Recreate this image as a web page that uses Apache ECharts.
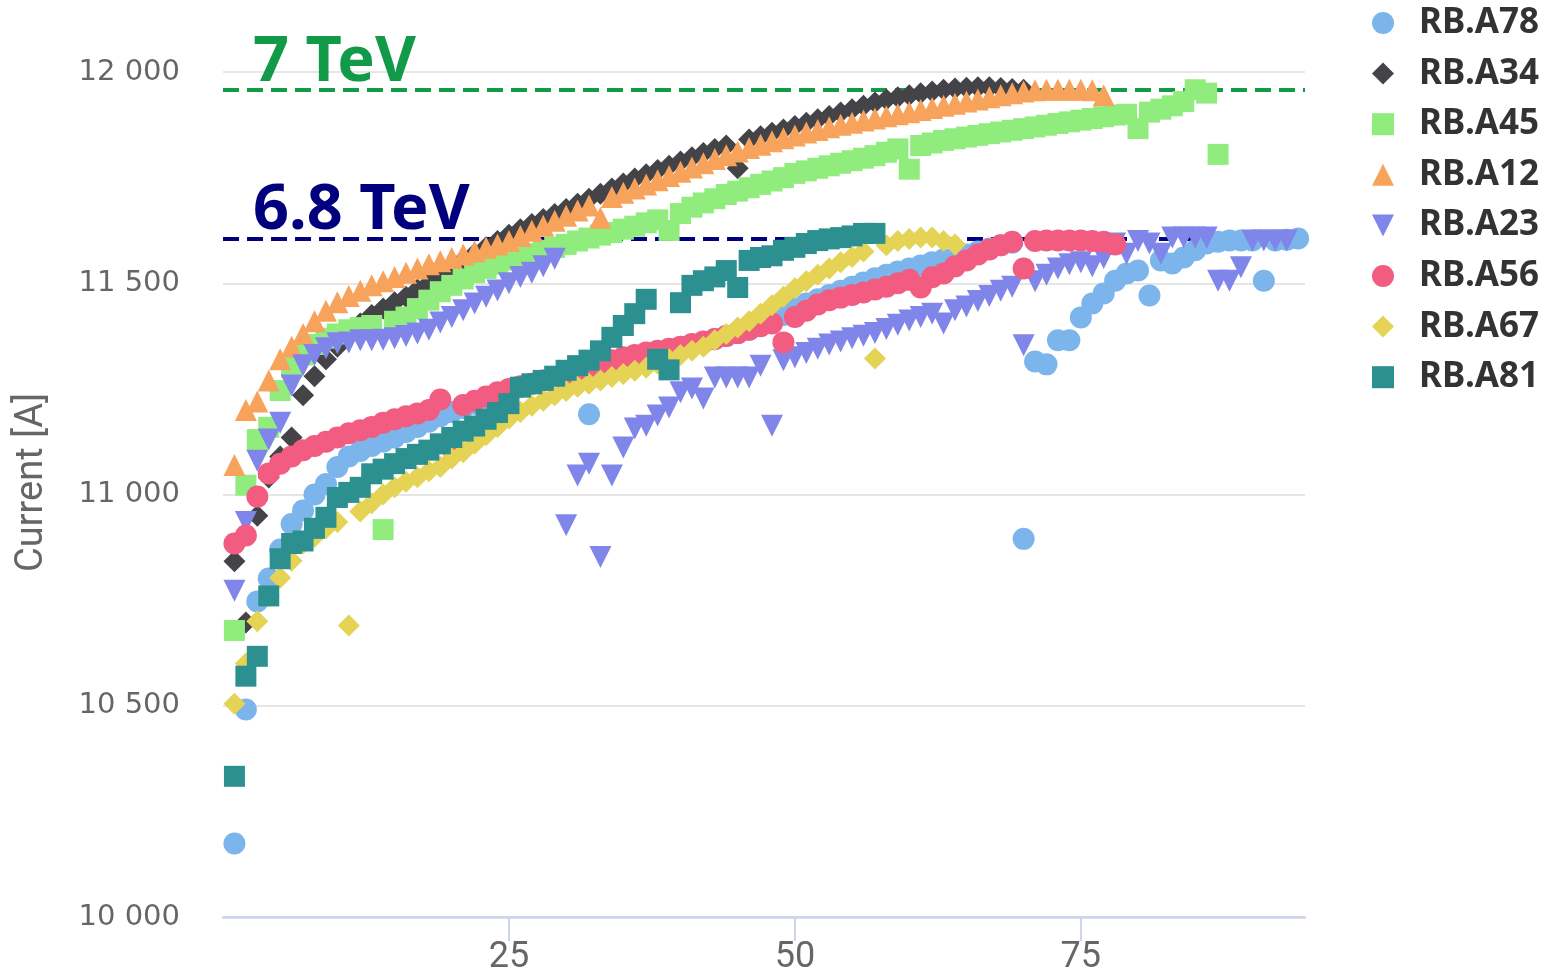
<!DOCTYPE html>
<html>
<head>
<meta charset="utf-8">
<script src="https://cdn.jsdelivr.net/npm/echarts@6/dist/echarts.min.js"></script>
<style>
html,body{margin:0;padding:0;background:#fff;}
#chart{width:1550px;height:973px;}
</style>
</head>
<body>
<div id="chart"></div>
<script>
// ---- data (values indexed from x = 1) ----
var seriesNames = ['RB.A78','RB.A34','RB.A45','RB.A12','RB.A23','RB.A56','RB.A67','RB.A81'];
var xTicks = [25, 50, 75];
var yTicks = [10000, 10500, 11000, 11500, 12000];
var plotLineValues = [11957, 11605];
var plotLineLabels = ['7 TeV', '6.8 TeV'];

var A78 = [10174,10491,10747,10801,10870,10930,10962,11000,11025,11065,
11090,11103,11115,11125,11135,11148,11160,11172,11185,11195,
11205,11215,11225,11235,11245,11255,11262,11270,11278,11285,
11292,11190,11300,11305,11312,11320,11325,11332,11340,11345,
11352,11360,11368,11375,11382,11390,11400,11412,11425,11440,
11452,11462,11472,11482,11492,11502,11512,11520,11528,11535,
11542,11550,11556,11562,11568,11575,11582,11590,11596,10895,
11315,11308,11365,11365,11419,11452,11476,11506,11523,11530,
11471,11554,11547,11561,11578,11594,11598,11601,11601,11601,
11506,11601,11603,11606];

var A34 = [10842,10697,10950,11040,11090,11135,11235,11280,11320,11350,
11380,11405,11425,11440,11455,11468,11485,11500,11520,11540,
11555,11570,11585,11600,11615,11628,11640,11652,11664,11676,
11688,11700,11712,11724,11736,11748,11758,11768,11778,11788,
11798,11808,11818,11826,11772,11840,11848,11856,11864,11872,
11880,11888,11896,11904,11912,11920,11928,11935,11940,11945,
11950,11954,11958,11961,11963,11964,11964,11962,11960,11958];

var A45 = [10678,11022,11130,11159,11246,11300,11330,11355,11370,11380,
11390,11395,11400,10917,11410,11420,11440,11460,11480,11495,
11510,11525,11535,11545,11555,11562,11570,11578,11585,11592,
11600,11607,11614,11620,11628,11635,11643,11650,11625,11665,
11680,11690,11700,11710,11718,11726,11734,11742,11750,11760,
11766,11772,11778,11784,11790,11796,11802,11810,11818,11770,
11826,11832,11838,11842,11846,11850,11854,11858,11862,11866,
11870,11874,11878,11882,11886,11890,11894,11898,11900,11866,
11905,11912,11920,11930,11958,11950,11805];

var A12 = [11070,11200,11220,11270,11320,11350,11380,11410,11435,11455,
11470,11482,11495,11505,11515,11525,11535,11545,11552,11560,
11568,11576,11584,11592,11600,11612,11624,11636,11648,11660,
11672,11684,11655,11704,11714,11724,11734,11744,11754,11764,
11774,11784,11794,11803,11812,11820,11828,11836,11843,11850,
11857,11863,11869,11875,11880,11885,11890,11895,11900,11905,
11910,11915,11920,11925,11930,11935,11940,11945,11950,11954,
11957,11958,11958,11958,11958,11957,11945];

var A23 = [10772,10935,11080,11130,11170,11258,11306,11330,11346,11358,
11360,11365,11365,11366,11370,11375,11381,11390,11407,11420,
11436,11452,11468,11483,11500,11515,11525,11540,11558,10927,
11045,11073,10852,11045,11111,11156,11163,11187,11206,11242,
11251,11227,11277,11277,11277,11277,11305,11163,11318,11325,
11335,11345,11355,11362,11370,11376,11382,11392,11402,11412,
11420,11428,11405,11436,11445,11458,11470,11482,11492,11353,
11505,11520,11535,11545,11550,11540,11560,11594,11570,11600,
11594,11570,11608,11608,11608,11608,11506,11506,11538,11601,
11601,11601,11601];

var A56 = [10884,10903,10995,11050,11073,11090,11105,11115,11125,11135,
11145,11152,11160,11170,11178,11185,11192,11200,11225,11110,
11212,11222,11232,11242,11250,11256,11262,11270,11278,11285,
11292,11300,11310,11318,11325,11330,11336,11340,11345,11350,
11356,11362,11368,11375,11382,11390,11398,11405,11360,11420,
11435,11450,11460,11466,11472,11478,11485,11492,11500,11508,
11490,11514,11523,11540,11554,11568,11580,11590,11598,11535,
11600,11601,11601,11601,11601,11600,11598,11592];

var A67 = [10505,10600,10700,10760,10803,10843,10884,10900,10920,10935,
10690,10960,10979,11000,11017,11030,11041,11055,11065,11085,
11100,11120,11140,11160,11180,11195,11210,11222,11235,11245,
11255,11262,11270,11278,11285,11293,11300,11310,11320,11330,
11340,11350,11365,11380,11395,11410,11428,11448,11468,11488,
11505,11520,11535,11550,11562,11575,11322,11590,11600,11605,
11608,11608,11600,11592];

var A81 = [10333,10570,10617,10760,10848,10884,10890,10920,10946,10993,
11005,11017,11049,11060,11073,11085,11095,11105,11120,11135,
11150,11162,11178,11194,11215,11254,11262,11270,11280,11294,
11305,11318,11340,11372,11400,11428,11462,11320,11295,11454,
11495,11506,11515,11530,11490,11554,11561,11565,11578,11585,
11594,11601,11605,11608,11612,11618,11618];

var seriesValues = [A78, A34, A45, A12, A23, A56, A67, A81];
var seriesColors = ['#7cb5ec','#434348','#90ed7d','#f7a35c','#8085e9','#f15c80','#e4d354','#2b908f'];
var downTri = 'path://M0,0 L10,0 L5,10 Z';
var seriesSymbols = ['circle','diamond','rect','triangle',downTri,'circle','diamond','rect'];
var symbolSizes = [22,22,21,22,22,22,22,21];
var plotLineColors = ['#119a48', '#00007f'];

function fmtNum(v){ return String(v).replace(/\B(?=(\d{3})+(?!\d))/g, ' '); }

var chart = echarts.init(document.getElementById('chart'), null, {renderer:'canvas'});

var series = seriesNames.map(function(name, k){
  return {
    name: name,
    type: 'scatter',
    symbol: seriesSymbols[k],
    symbolSize: symbolSizes[k],
    itemStyle: {color: seriesColors[k], opacity: 1},
    data: seriesValues[k].map(function(v, i){ return [i + 1, v]; }),
    z: 2
  };
});

series[0].markLine = {
  silent: true,
  symbol: 'none',
  z: 1,
  animation: false,
  data: plotLineValues.map(function(v, k){
    return {
      yAxis: v,
      lineStyle: {color: plotLineColors[k], type: [16, 8], width: 4},
      label: {
        show: true,
        position: 'insideStartTop',
        formatter: plotLineLabels[k],
        color: plotLineColors[k],
        fontFamily: 'Noto Sans',
        fontWeight: 'bold',
        fontSize: 63,
        padding: [0, 0, 0, 34],
        distance: -4
      }
    };
  })
};

chart.setOption({
  animation: false,
  backgroundColor: '#ffffff',
  grid: {left: 223, right: 245, top: 72, bottom: 56, containLabel: false, outerBoundsMode: 'none'},
  legend: {
    orient: 'vertical',
    left: 1372,
    top: 5,
    padding: 0,
    itemWidth: 22,
    itemHeight: 22,
    itemGap: 14.6,
    data: seriesNames.map(function(n, k){ return {name: n, icon: seriesSymbols[k]}; }),
    textStyle: {
      color: '#333333',
      fontFamily: 'Noto Sans',
      fontWeight: 'bold',
      fontSize: 35,
      lineHeight: 36,
      padding: [0, 0, 0, 20]
    }
  },
  xAxis: {
    type: 'value',
    min: 0,
    max: 94.6,
    interval: 25,
    splitLine: {show: false},
    axisLine: {show: true, lineStyle: {color: '#ccd6eb', width: 2.5}},
    axisTick: {show: true, customValues: xTicks, length: 24, lineStyle: {color: '#ccd6eb', width: 2}},
    axisLabel: {
      customValues: xTicks,
      color: '#666666',
      fontFamily: 'Roboto',
      fontSize: 36,
      margin: 23
    }
  },
  yAxis: {
    type: 'value',
    min: 10000,
    max: 12000,
    interval: 500,
    axisLine: {show: false},
    axisTick: {show: false},
    splitLine: {show: true, lineStyle: {color: '#e6e6e6', width: 2}},
    axisLabel: {
      color: '#666666',
      fontFamily: 'DejaVu Sans',
      fontSize: 29,
      margin: 43,
      formatter: function(v){ return fmtNum(v); }
    },
    name: 'Current [A]',
    nameLocation: 'middle',
    nameGap: 172,
    nameTextStyle: {
      color: '#666666',
      fontFamily: 'Roboto',
      fontWeight: 'normal',
      fontSize: 38,
      padding: [0, 0, 0, 24]
    }
  },
  series: series
});
</script>
</body>
</html>
